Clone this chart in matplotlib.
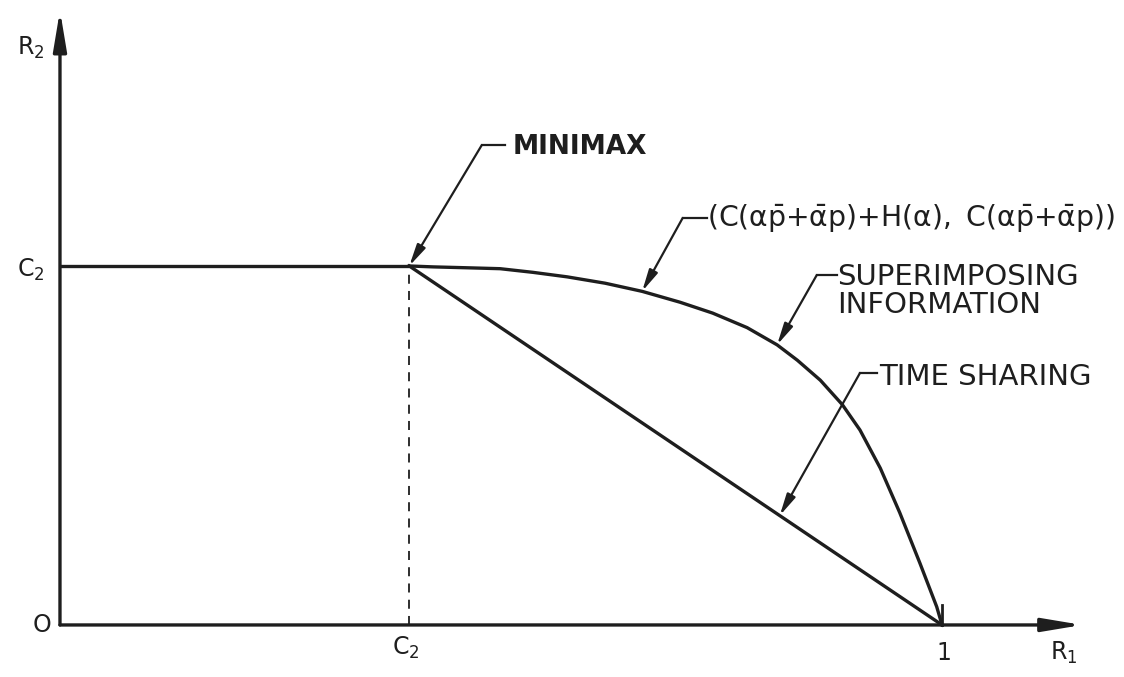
import numpy as np
import matplotlib
matplotlib.use("Agg")
import matplotlib.pyplot as plt

plt.rcParams["font.family"] = "DejaVu Sans"
plt.rcParams["mathtext.default"] = "regular"

# Valores de la región de tasas (R1, R2)
c2 = 0.396
# curva de superposición de información, leída punto a punto
r1_sup = [0.396, 0.423, 0.462, 0.499, 0.536, 0.575, 0.618, 0.660, 0.703, 0.740,
          0.779, 0.813, 0.836, 0.862, 0.887, 0.907, 0.930, 0.952, 0.975, 0.994, 1.0]
r2_sup = [0.396, 0.395, 0.394, 0.393, 0.389, 0.384, 0.377, 0.368, 0.356, 0.344,
          0.328, 0.309, 0.292, 0.270, 0.243, 0.215, 0.173, 0.124, 0.068, 0.020, 0.0]
# recta de tiempo compartido
r1_ts = [c2, 1.0]
r2_ts = [c2, 0.0]

tinta = "#1e1e1e"

fig = plt.figure(figsize=(11.24, 6.77), dpi=100)
ax = fig.add_axes([0, 0, 1, 1])
ax.set_xlim(-0.068, 1.2063)
ax.set_ylim(-0.0574, 0.6894)
ax.axis("off")

# Ejes con flecha
for punta in [(0, 0.678), (1.159, 0)]:
    ax.annotate("", xy=punta, xytext=(0, 0),
                arrowprops=dict(arrowstyle="-|>,head_length=2.4,head_width=0.4",
                                lw=2.4, color=tinta, shrinkA=0, shrinkB=0))

# Tramo horizontal R2 = C2 y guía discontinua en R1 = C2
ax.plot([0, c2], [c2, c2], color=tinta, lw=2.4, solid_capstyle="butt")
ax.plot([c2, c2], [0, c2], color=tinta, lw=1.3, linestyle=(0, (5, 4)))
ax.plot([1.0, 1.0], [0, 0.022], color=tinta, lw=2.0)

# Curvas
ax.plot(r1_sup, r2_sup, color=tinta, lw=2.4)
ax.plot(r1_ts, r2_ts, color=tinta, lw=2.4)

# Etiquetas de ejes
fs_eje = 17
ax.text(-0.049, 0.629, "R$_2$", fontsize=fs_eje, color=tinta, ha="left", va="baseline")
ax.text(-0.049, 0.384, "C$_2$", fontsize=fs_eje, color=tinta, ha="left", va="baseline")
ax.text(-0.0204, 0.0, "O", fontsize=fs_eje, color=tinta, ha="center", va="center")
ax.text(0.376, -0.033, "C$_2$", fontsize=fs_eje, color=tinta, ha="left", va="baseline")
ax.text(1.002, -0.0386, "1", fontsize=fs_eje, color=tinta, ha="center", va="baseline")
ax.text(1.122, -0.0386, "R$_1$", fontsize=fs_eje, color=tinta, ha="left", va="baseline")

# Llamadas con línea quebrada y flecha
flecha = dict(arrowstyle="-|>,head_length=1.3,head_width=0.28",
              lw=1.6, color=tinta, shrinkA=0, shrinkB=0)
fs = 21


def llamada(texto, punta, codo, x_fin, x_texto, y_texto, **kw):
    ax.plot([codo[0], x_fin], [codo[1], codo[1]], color=tinta, lw=1.6)
    ax.annotate("", xy=punta, xytext=codo, arrowprops=flecha)
    ax.text(x_texto, y_texto, texto, fontsize=kw.pop("size", fs), color=tinta,
            ha="left", va="center", **kw)


llamada("MINIMAX", (c2, c2), (0.478, 0.529), 0.505, 0.513, 0.527,
        fontweight="bold", size=19)

x_f = 0.660
llamada(r"$(C(\alpha\bar{p}{+}\bar{\alpha}p){+}H(\alpha),\ C(\alpha\bar{p}{+}\bar{\alpha}p))$",
        (x_f, np.interp(x_f, r1_sup, r2_sup)), (0.706, 0.449), 0.734, 0.733, 0.449,
        size=20.3)

x_s = 0.813
llamada("SUPERIMPOSING", (x_s, np.interp(x_s, r1_sup, r2_sup)),
        (0.858, 0.386), 0.881, 0.881, 0.384)
ax.text(0.881, 0.353, "INFORMATION", fontsize=fs, color=tinta, ha="left", va="center")

x_t = 0.816
llamada("TIME SHARING", (x_t, np.interp(x_t, r1_ts, r2_ts)),
        (0.907, 0.278), 0.926, 0.929, 0.274)

fig.savefig("out.png", dpi=100, facecolor="white")
